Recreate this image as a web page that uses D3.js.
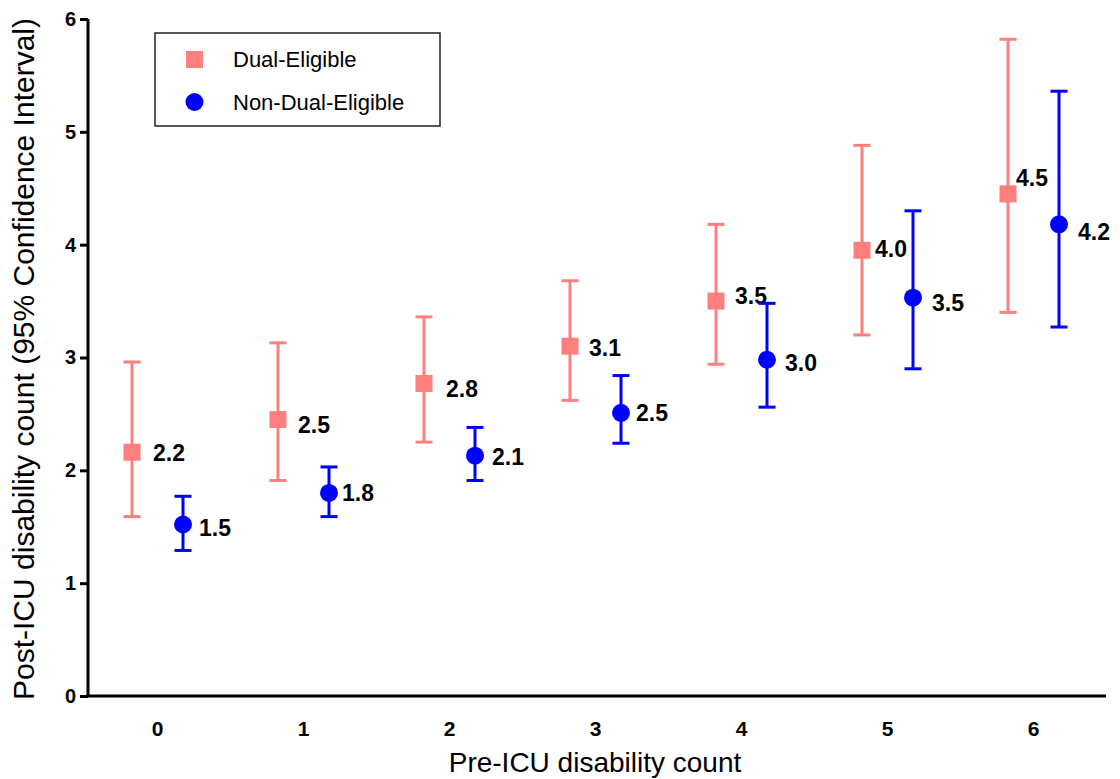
<!DOCTYPE html>
<html>
<head>
<meta charset="utf-8">
<script src="https://cdn.jsdelivr.net/npm/d3@7"></script>
<style>
  body { margin: 0; background: #fff; }
  svg { font-family: "Liberation Sans", Arial, sans-serif; }
</style>
</head>
<body>
<div id="chart"></div>
<script>
// values
const categories = [0, 1, 2, 3, 4, 5, 6];
const dualMean = [2.16, 2.45, 2.77, 3.10, 3.50, 3.95, 4.45];
const dualLow = [1.59, 1.91, 2.25, 2.62, 2.94, 3.20, 3.40];
const dualHigh = [2.96, 3.13, 3.36, 3.68, 4.18, 4.88, 5.82];
const dualLabels = ["2.2", "2.5", "2.8", "3.1", "3.5", "4.0", "4.5"];
const nonMean = [1.52, 1.80, 2.13, 2.51, 2.98, 3.53, 4.18];
const nonLow = [1.29, 1.59, 1.91, 2.24, 2.56, 2.90, 3.27];
const nonHigh = [1.77, 2.03, 2.38, 2.84, 3.48, 4.30, 5.36];
const nonLabels = ["1.5", "1.8", "2.1", "2.5", "3.0", "3.5", "4.2"];
const yTicks = [0, 1, 2, 3, 4, 5, 6];

// hand placed label nudges (px from the marker)
const dualNudge = [[21, 0], [20, 5], [22, 5], [19, 2], [19, -5], [13, -2], [8, -16]];
const nonNudge = [[16, 3], [13, 0], [17, 1], [15, 0], [18, 3], [19, 5], [19, 7]];

const width = 1120, height = 779;
const pink = "#ff7f7f", blue = "#0000ff";

const svg = d3.select("#chart").append("svg")
    .attr("width", width)
    .attr("height", height);

const x = d3.scalePoint().domain(categories).range([157, 1033]);
const y = d3.scaleLinear().domain([0, 6]).range([696, 19]);

// y axis
const yAxis = svg.append("g")
    .attr("transform", "translate(88,0)")
    .call(d3.axisLeft(y).tickValues(yTicks).tickSize(8).tickFormat(d3.format("d")));
yAxis.attr("font-size", null).attr("font-family", null);
yAxis.select(".domain").attr("stroke-width", 3).attr("d", "M0," + y(6) + "V" + y(0));
yAxis.selectAll(".tick line").attr("stroke-width", 3);
yAxis.selectAll(".tick text")
    .attr("x", -12)
    .style("font-size", "20px")
    .style("font-weight", "bold")
    .attr("fill", "#000");

// x axis
const xAxis = svg.append("g")
    .attr("transform", "translate(0," + y(0) + ")")
    .call(d3.axisBottom(x).tickSize(0));
xAxis.attr("font-size", null).attr("font-family", null);
xAxis.select(".domain").remove();
xAxis.append("line")
    .attr("x1", 86.5).attr("x2", 1106)
    .attr("stroke", "#000").attr("stroke-width", 3);
xAxis.selectAll(".tick text")
    .attr("y", 25)
    .style("font-size", "21px")
    .style("font-weight", "bold")
    .attr("fill", "#000");

// axis titles
svg.append("text")
    .attr("x", 595).attr("y", 772)
    .attr("text-anchor", "middle")
    .style("font-size", "28px")
    .text("Pre-ICU disability count");

svg.append("text")
    .attr("transform", "translate(34," + 359 + ") rotate(-90)")
    .attr("text-anchor", "middle")
    .style("font-size", "30px")
    .text("Post-ICU disability count (95% Confidence Interval)");

function drawSeries(mean, low, high, labels, nudge, offset, color, shape) {
    const data = categories.map((c, i) => ({
        c: c, m: mean[i], lo: low[i], hi: high[i], label: labels[i], nd: nudge[i]
    }));
    const g = svg.append("g");
    const cx = d => x(d.c) + offset;

    g.selectAll(".whisker").data(data).enter().append("line")
        .attr("x1", cx).attr("x2", cx)
        .attr("y1", d => y(d.lo)).attr("y2", d => y(d.hi))
        .attr("stroke", color).attr("stroke-width", 3);

    ["lo", "hi"].forEach(k => {
        g.selectAll(".cap-" + k).data(data).enter().append("line")
            .attr("x1", d => cx(d) - 8.5).attr("x2", d => cx(d) + 8.5)
            .attr("y1", d => y(d[k])).attr("y2", d => y(d[k]))
            .attr("stroke", color).attr("stroke-width", 3);
    });

    if (shape === "square") {
        g.selectAll("rect").data(data).enter().append("rect")
            .attr("x", d => cx(d) - 8.5).attr("y", d => y(d.m) - 8.5)
            .attr("width", 17).attr("height", 17)
            .attr("fill", color);
    } else {
        g.selectAll("circle").data(data).enter().append("circle")
            .attr("cx", cx).attr("cy", d => y(d.m))
            .attr("r", 9)
            .attr("fill", color);
    }

    g.selectAll("text").data(data).enter().append("text")
        .attr("x", d => cx(d) + d.nd[0])
        .attr("y", d => y(d.m) + d.nd[1])
        .attr("dy", "0.36em")
        .style("font-size", "23px")
        .style("font-weight", "bold")
        .attr("fill", "#000")
        .text(d => d.label);
}

drawSeries(dualMean, dualLow, dualHigh, dualLabels, dualNudge, -25, pink, "square");
drawSeries(nonMean, nonLow, nonHigh, nonLabels, nonNudge, 26, blue, "circle");

// legend
const legend = svg.append("g");
legend.append("rect")
    .attr("x", 155).attr("y", 33)
    .attr("width", 285).attr("height", 93)
    .attr("fill", "none").attr("stroke", "#222").attr("stroke-width", 1.5);
legend.append("rect")
    .attr("x", 186).attr("y", 51).attr("width", 17).attr("height", 17)
    .attr("fill", pink);
legend.append("circle")
    .attr("cx", 194.5).attr("cy", 102).attr("r", 9)
    .attr("fill", blue);
legend.append("text")
    .attr("x", 233).attr("y", 59).attr("dy", "0.36em")
    .style("font-size", "22px")
    .text("Dual-Eligible");
legend.append("text")
    .attr("x", 233).attr("y", 102).attr("dy", "0.36em")
    .style("font-size", "22px")
    .text("Non-Dual-Eligible");
</script>
</body>
</html>
